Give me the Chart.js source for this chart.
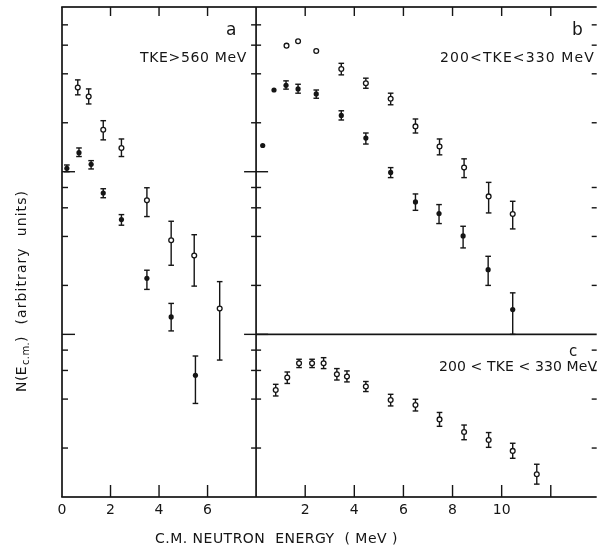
<!DOCTYPE html>
<html>
<head>
<meta charset="utf-8">
<script src="https://cdn.jsdelivr.net/npm/chart.js@4.4.1/dist/chart.umd.min.js"></script>
<style>
  html, body { margin: 0; padding: 0; background: #fff; }
  #wrap { position: relative; width: 602px; height: 548px; }
</style>
</head>
<body>
<div id="wrap"><canvas id="spectra" width="602" height="548"></canvas></div>
<script>
// panel a : TKE > 560 MeV
const aOpenE  = [0.65, 1.1, 1.7, 2.45, 3.5, 4.5, 5.45, 6.5];
const aOpenN  = [32.9, 29.0, 18.1, 14.0, 6.67, 3.79, 3.05, 1.44];
const aOpenLo = [29.7, 26.1, 15.7, 12.4, 5.30, 2.66, 1.98, 0.695];
const aOpenHi = [36.7, 32.3, 20.6, 15.9, 7.97, 4.96, 4.10, 2.11];

const aFillE  = [0.2, 0.7, 1.2, 1.7, 2.45, 3.5, 4.5, 5.5];
const aFillN  = [10.5, 13.1, 11.1, 7.40, 5.08, 2.21, 1.28, 0.56];
const aFillLo = [10.0, 12.4, 10.4, 6.92, 4.69, 1.89, 1.05, 0.376];
const aFillHi = [11.0, 14.0, 11.7, 7.86, 5.45, 2.48, 1.55, 0.736];

// panel b : 200 < TKE < 330 MeV
const bOpenE  = [1.24, 1.71, 2.45, 3.47, 4.47, 5.48, 6.49, 7.47, 8.47, 9.47, 10.45];
const bOpenN  = [59.6, 63.4, 55.3, 42.8, 35.0, 28.1, 19.0, 14.3, 10.6, 7.05, 5.50];
const bOpenLo = [null, null, null, 39.4, 32.6, 25.8, 17.3, 12.7, 9.2, 5.58, 4.45];
const bOpenHi = [null, null, null, 46.4, 37.6, 30.4, 21.1, 15.9, 12.0, 8.6, 6.58];

const bFillE  = [0.27, 0.73, 1.22, 1.71, 2.45, 3.47, 4.47, 5.48, 6.49, 7.45, 8.43, 9.45, 10.45];
const bFillN  = [14.5, 31.8, 34.0, 32.3, 30.1, 22.2, 16.1, 9.9, 6.52, 5.53, 4.03, 2.50, 1.42];
const bFillLo = [null, null, 32.2, 30.4, 28.3, 20.8, 14.8, 9.2, 5.79, 4.80, 3.40, 2.0, 1.0];
const bFillHi = [null, null, 36.2, 34.5, 31.8, 23.7, 17.3, 10.6, 7.3, 6.28, 4.62, 3.02, 1.80];

// panel c : 200 < TKE < 330 MeV
const cOpenE  = [0.8, 1.27, 1.75, 2.28, 2.75, 3.29, 3.7, 4.47, 5.48, 6.49, 7.47, 8.47, 9.47, 10.45, 11.43];
const cOpenN  = [0.455, 0.542, 0.664, 0.664, 0.664, 0.568, 0.550, 0.478, 0.395, 0.368, 0.300, 0.251, 0.224, 0.192, 0.138];
const cOpenLo = [0.418, 0.499, 0.625, 0.625, 0.616, 0.524, 0.510, 0.445, 0.363, 0.338, 0.272, 0.225, 0.202, 0.173, 0.120];
const cOpenHi = [0.493, 0.587, 0.703, 0.703, 0.719, 0.616, 0.596, 0.513, 0.428, 0.399, 0.331, 0.277, 0.249, 0.214, 0.159];

const xTicksA = [0, 2, 4, 6];
const xTicksB = [2, 4, 6, 8, 10, 12];
const yTicks = [0.2, 0.4, 0.6, 0.8, 2, 4, 6, 8, 20, 40, 60, 80];
const yDecades = [1, 10];

const INK = '#151515';
Chart.defaults.font.family = 'DejaVu Sans';
Chart.defaults.color = INK;

function series(E, N, lo, hi, axis, open) {
    return {
        data: E.map((e, i) => ({ x: e, y: N[i] })),
        errLo: lo,
        errHi: hi,
        xAxisID: axis,
        yAxisID: 'y',
        showLine: false,
        pointRadius: open ? 2.4 : 2.6,
        pointBackgroundColor: open ? '#fff' : INK,
        pointBorderColor: INK,
        pointBorderWidth: open ? 1.3 : 0
    };
}

// solid line pieces as rectangles
function hLine(ctx, x1, x2, y, w) { ctx.fillRect(Math.min(x1, x2), y - w / 2, Math.abs(x2 - x1), w); }
function vLine(ctx, x, y1, y2, w) { ctx.fillRect(x - w / 2, Math.min(y1, y2), w, Math.abs(y2 - y1)); }

// text spread to a given width (the original lettering is wide)
function spreadText(ctx, text, x, y, width, font) {
    ctx.font = font;
    ctx.letterSpacing = '0px';
    const w = ctx.measureText(text).width;
    ctx.letterSpacing = ((width - w) / text.length).toFixed(2) + 'px';
    ctx.font = font;
    ctx.fillText(text, x, y);
    const used = ctx.measureText(text).width;
    ctx.letterSpacing = '0px';
    return used;
}

// error bars, drawn under the markers
const errorBars = {
    id: 'errorBars',
    beforeDatasetsDraw(chart) {
        const ctx = chart.ctx;
        const y = chart.scales.y;
        ctx.save();
        ctx.fillStyle = INK;
        chart.data.datasets.forEach(ds => {
            const x = chart.scales[ds.xAxisID];
            ds.data.forEach((p, i) => {
                if (ds.errLo[i] == null) return;
                const px = x.getPixelForValue(p.x);
                const y1 = y.getPixelForValue(ds.errHi[i]);
                const y2 = y.getPixelForValue(ds.errLo[i]);
                vLine(ctx, px, y1, y2, 1.4);
                hLine(ctx, px - 2.8, px + 2.8, y1, 1.4);
                hLine(ctx, px - 2.8, px + 2.8, y2, 1.4);
            });
        });
        ctx.restore();
    }
};

// panel frames, inward ticks and the texts
const frame = {
    id: 'frame',
    beforeDatasetsDraw(chart) {
        const ctx = chart.ctx;
        const xa = chart.scales.xa, xb = chart.scales.xb, y = chart.scales.y;
        const L = xa.left, M = xa.right, R = xb.right;
        const T = chart.chartArea.top, B = chart.chartArea.bottom;
        const one = y.getPixelForValue(1);
        ctx.save();
        ctx.fillStyle = INK;
        hLine(ctx, L - 0.8, R, T, 1.7);
        hLine(ctx, L - 0.8, R, B, 1.7);
        vLine(ctx, L, T, B, 1.7);
        vLine(ctx, M, T, B, 1.7);
        hLine(ctx, M, R, one, 1.7);

        yTicks.forEach(v => {
            const py = y.getPixelForValue(v);
            hLine(ctx, L, L + 6, py, 1.4);
            hLine(ctx, M - 5, M + 5, py, 1.4);
            hLine(ctx, R, R - 5, py, 1.4);
        });
        yDecades.forEach(v => {
            const py = y.getPixelForValue(v);
            hLine(ctx, L, L + 13, py, 1.4);
            hLine(ctx, M - 12, M + 12, py, 1.4);
        });
        [[xa, [2, 4, 6]], [xb, [2, 4, 6, 8, 10, 12]]].forEach(([sc, vals]) => {
            vals.forEach(v => {
                const px = sc.getPixelForValue(v);
                vLine(ctx, px, B, B - 12, 1.4);
                vLine(ctx, px, T, T + 9, 1.4);
            });
        });
        ctx.restore();
    },
    afterDraw(chart) {
        const ctx = chart.ctx;
        ctx.save();
        ctx.fillStyle = INK;
        ctx.textBaseline = 'middle';
        ctx.textAlign = 'left';

        ctx.font = '17px "DejaVu Sans"';
        ctx.fillText('a', 226, 31);
        ctx.fillText('b', 572, 31);
        ctx.font = '15px "DejaVu Sans"';
        ctx.fillText('c', 569, 352);

        const f14 = '14px "DejaVu Sans"';
        spreadText(ctx, 'TKE>560 MeV', 140, 58, 107, f14);
        spreadText(ctx, '200<TKE<330 MeV', 440, 58, 155, f14);
        spreadText(ctx, '200 < TKE < 330 MeV', 439, 367, 158, f14);

        // x title
        spreadText(ctx, 'C.M. NEUTRON  ENERGY  ( MeV )', 155, 539, 243, f14);

        // y title, rotated, with subscript
        ctx.translate(22, 392);
        ctx.rotate(-Math.PI / 2);
        let x = 0;
        x += spreadText(ctx, 'N(E', x, 0, 26, f14);
        x += spreadText(ctx, 'c.m.', x + 1, 4, 23, '10px "DejaVu Sans"') + 1;
        spreadText(ctx, ')  (arbitrary  units)', x, 0, 152, f14);
        ctx.restore();
    }
};

new Chart(document.getElementById('spectra'), {
    type: 'scatter',
    data: {
        datasets: [
            series(aOpenE, aOpenN, aOpenLo, aOpenHi, 'xa', true),
            series(aFillE, aFillN, aFillLo, aFillHi, 'xa', false),
            series(bOpenE, bOpenN, bOpenLo, bOpenHi, 'xb', true),
            series(bFillE, bFillN, bFillLo, bFillHi, 'xb', false),
            series(cOpenE, cOpenN, cOpenLo, cOpenHi, 'xb', true)
        ]
    },
    options: {
        responsive: false,
        animation: false,
        devicePixelRatio: 1,
        events: [],
        layout: { padding: { top: 7, right: 0, bottom: 0, left: 0 } },
        plugins: { legend: { display: false }, tooltip: { enabled: false } },
        scales: {
            xa: {
                type: 'linear', position: 'bottom', stack: 'x', stackWeight: 196,
                min: 0, max: 8,
                grid: { display: false, drawTicks: false }, border: { display: false },
                ticks: {
                    stepSize: 2, autoSkip: false, maxRotation: 0, padding: 5,
                    font: { size: 14 },
                    callback: v => xTicksA.includes(v) ? String(v) : ''
                },
                afterFit: s => { s.height = 51; }
            },
            xb: {
                type: 'linear', position: 'bottom', stack: 'x', stackWeight: 344,
                min: 0, max: 13.87,
                grid: { display: false, drawTicks: false }, border: { display: false },
                ticks: {
                    stepSize: 2, autoSkip: false, maxRotation: 0, padding: 5,
                    font: { size: 14 },
                    callback: v => xTicksB.includes(v) ? String(v) : ''
                },
                afterFit: s => { s.height = 51; }
            },
            y: {
                type: 'logarithmic', position: 'left',
                min: 0.1, max: 103,
                grid: { display: false }, border: { display: false },
                ticks: { display: false },
                afterFit: s => { s.width = 62; }
            }
        }
    },
    plugins: [errorBars, frame]
});
</script>
</body>
</html>
